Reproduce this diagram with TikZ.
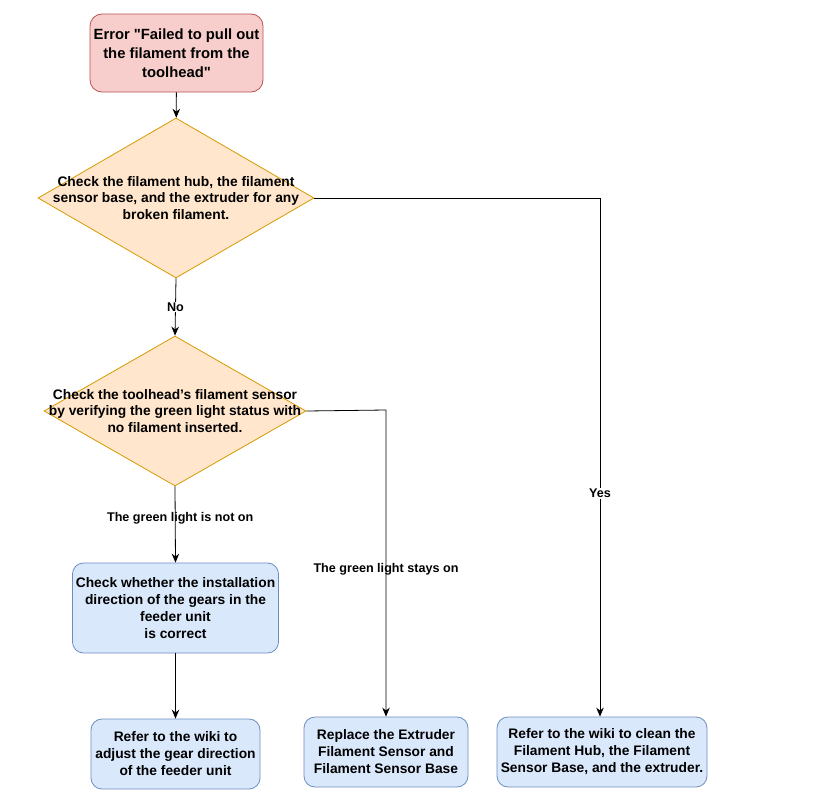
\documentclass[tikz,border=0pt]{standalone}
\usepackage{fontspec}
\setmainfont{Liberation Sans}[Ligatures=TeXOff]
\usetikzlibrary{positioning,arrows.meta,shapes.geometric}

\definecolor{errfill}{HTML}{F8CECC}
\definecolor{errline}{HTML}{B85450}
\definecolor{chkfill}{HTML}{FFE6CC}
\definecolor{chkline}{HTML}{D79B00}
\definecolor{actfill}{HTML}{DAE8FC}
\definecolor{actline}{HTML}{6C8EBF}

\tikzset{
    errbox/.style={draw=errline, fill=errfill, rounded corners=12pt, line width=0.8pt,
        minimum width=173pt, minimum height=78pt, align=center, font=\fontsize{14.8}{19}\selectfont\bfseries},
    actbox/.style={draw=actline, fill=actfill, rounded corners=11pt, line width=0.8pt,
        align=center, font=\fontsize{13.8}{17}\selectfont\bfseries},
    decision/.style={diamond, draw=chkline, fill=chkfill, line width=0.8pt, inner sep=0,
        minimum width=#1},
    dtext/.style={align=center, inner sep=0, font=\fontsize{13.8}{16.5}\selectfont\bfseries},
    flow/.style={-{Stealth[length=9pt,width=7.5pt]}, line width=0.8pt},
    edgelabel/.style={font=\fontsize{12.6}{15}\selectfont\bfseries, inner sep=1pt},
}

\begin{document}
\begin{tikzpicture}[x=1pt, y=-1pt]

    \useasboundingbox (0,0) rectangle (819,800);

    % start
    \node[errbox] (err) at (176.5,53) {Error "Failed to pull out\\ the filament from the\\ toolhead"};

    % checks
    \node[decision=276pt, minimum height=160pt] (hub) at (176,198) {};
    \node[dtext] (hubtxt) at (hub) {Check the filament hub, the filament\\ sensor base, and the extruder for any\\ broken filament.};

    \node[decision=262pt, minimum height=150pt] (sensor) at (175,411) {};
    \node[dtext] (sensortxt) at (sensor) {Check the toolhead’s filament sensor\\ by verifying the green light status with\\ no filament inserted.};

    \node[actbox, minimum width=205pt, minimum height=90pt] (gears) at (175.5,608) {Check whether the installation\\ direction of the gears in the\\ feeder unit\\ is correct};

    % results
    \node[actbox, minimum width=169pt, minimum height=70pt] (adjust) at (175.5,754) {Refer to the wiki to\\ adjust the gear direction\\ of the feeder unit};
    \node[actbox, minimum width=164pt, minimum height=70pt] (replace) at (386,752) {Replace the Extruder\\ Filament Sensor and\\ Filament Sensor Base};
    \node[actbox, minimum width=210pt, minimum height=70pt] (clean) at (602,752) {Refer to the wiki to clean the\\ Filament Hub, the Filament\\ Sensor Base, and the extruder.};

    \coordinate (yescorner) at (600,198);
    \coordinate (oncorner) at (386,410);

    \draw[flow] (err) -- (hub);
    \draw[flow] (hub.south) -- node[edgelabel, fill=white] {No} (sensor.north);
    \draw[flow] (hub.east) -- (yescorner) -- node[edgelabel, fill=white, pos=0.57] {Yes} (yescorner |- clean.north);
    \draw[flow] (sensor.east) -- (oncorner) -- node[edgelabel, pos=0.52] {The green light stays on} (oncorner |- replace.north);
    \draw[flow] (sensor.south) -- node[edgelabel, xshift=5pt, pos=0.42] {The green light is not on} (gears.north);
    \draw[flow] (gears) -- (adjust);

\end{tikzpicture}
\end{document}
